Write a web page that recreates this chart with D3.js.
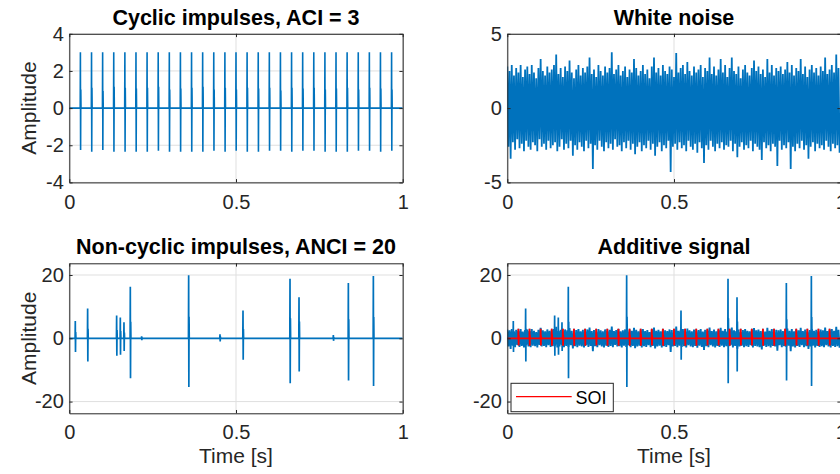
<!DOCTYPE html>
<html>
<head>
<meta charset="utf-8">
<script src="https://cdn.jsdelivr.net/npm/d3@7"></script>
<style>
  html, body { margin: 0; padding: 0; background: #fff; }
  svg { display: block; font-family: "Liberation Sans", Arial, Helvetica, sans-serif; }
</style>
</head>
<body>
<svg id="chart" width="840" height="474"></svg>
<script>
// ---- Cyclic impulses (SOI), 30 Hz repetition ----
const ciTime = [0.0333, 0.0667, 0.1000, 0.1333, 0.1667, 0.2000, 0.2333, 0.2667, 0.3000, 0.3333,
                0.3667, 0.4000, 0.4333, 0.4667, 0.5000, 0.5333, 0.5667, 0.6000, 0.6333, 0.6667,
                0.7000, 0.7333, 0.7667, 0.8000, 0.8333, 0.8667, 0.9000, 0.9333, 0.9667];
const ciPeak = [3.0, 3.0, 3.0, 3.0, 3.0, 3.0, 3.0, 3.0, 3.0, 3.0,
                3.0, 3.0, 3.0, 3.0, 3.0, 3.0, 3.0, 3.0, 3.0, 3.0,
                3.0, 3.0, 3.0, 3.0, 3.0, 3.0, 3.0, 3.0, 3.0];
const ciTrough = [-2.25, -2.35, -2.25, -2.35, -2.35, -2.35, -2.35, -2.3, -2.35, -2.35,
                  -2.35, -2.35, -2.3, -2.35, -2.3, -2.35, -2.35, -2.3, -2.3, -2.35,
                  -2.3, -2.3, -2.35, -2.35, -2.35, -2.3, -2.3, -2.35, -2.3];
const ciRebound = [1.0, 1.1, 0.9, 1.15, 1.1, 1.05, 1.1, 1.15, 1.0, 1.05,
                   1.1, 1.15, 1.0, 1.1, 1.0, 1.1, 1.05, 1.1, 0.95, 1.1,
                   1.05, 1.1, 1.0, 1.05, 1.1, 1.0, 1.1, 1.05, 1.0];

// ---- Non-cyclic impulses ----
const ncTime    = [0.018, 0.055, 0.142, 0.153, 0.164, 0.183, 0.217, 0.358, 0.452, 0.521, 0.662, 0.689, 0.792, 0.837, 0.912];
const ncPeak    = [5.5, 9.4, 7.2, 6.6, 5.1, 16.3, 0.6, 19.9, 1.3, 8.8, 18.8, 13.0, 1.0, 17.5, 19.7];
const ncTrough  = [-4.3, -7.3, -5.5, -5.2, -4.0, -12.6, -0.6, -15.4, -1.0, -6.8, -14.2, -10.5, -0.8, -13.3, -15.1];
const ncRebound = [2.0, 3.0, 2.5, 2.3, 1.8, 5.2, 0.3, 6.8, 0.5, 2.9, 6.3, 5.3, 0.4, 6.0, 6.7];

// ---- White noise: successive local maxima / minima ----
const noiseHi = [2.8, 2.5, 2.9, 2.2, 2.7, 2.4, 2.9, 2.1, 2.6, 2.8,
                 2.3, 2.9, 2.4, 2.0, 2.7, 3.3, 2.5, 2.2, 2.8, 2.4,
                 2.6, 2.9, 3.6, 2.3, 2.7, 2.1, 2.8, 2.5, 3.2, 2.4,
                 2.0, 2.6, 2.9, 2.2, 2.7, 2.4, 2.8, 3.4, 2.3, 2.6,
                 2.1, 2.9, 2.5, 2.2, 2.8, 2.4, 2.7, 3.75, 2.3, 2.6,
                 2.9, 2.2, 2.5, 2.8, 2.1, 2.6, 2.4, 3.3, 2.7, 2.2,
                 2.5, 2.9, 2.3, 2.6, 2.0, 2.8, 3.4, 2.4, 2.7, 2.2,
                 2.9, 2.5, 2.3, 2.8, 2.6, 2.1, 3.7, 2.4, 2.7, 2.9,
                 2.3, 3.1, 2.5, 2.2, 2.8, 2.4, 2.6, 2.9, 2.1, 2.7,
                 2.5, 3.4, 2.3, 2.8, 2.2, 2.6, 3.3, 2.4, 2.9, 2.1,
                 2.7, 3.4, 2.5, 2.3, 2.8, 2.0, 2.6, 2.9, 2.4, 2.2,
                 2.7, 3.2, 2.5, 2.8, 2.3, 2.6, 2.1, 3.3, 2.4, 2.9,
                 2.2, 2.7, 2.5, 2.8, 2.3, 2.6, 3.1, 2.4, 2.9, 2.2,
                 2.7, 2.5, 3.3, 2.3, 2.8, 2.1, 2.6, 2.9, 2.4, 2.7,
                 2.2, 2.8, 2.5, 3.4, 2.3, 2.6, 2.9, 2.4, 3.6, 2.7];
const noiseLo = [-2.6, -3.4, -2.3, -2.8, -2.1, -2.7, -2.4, -2.9, -2.2, -2.6,
                 -2.8, -2.3, -2.5, -2.9, -2.1, -2.6, -2.4, -2.8, -2.2, -2.7,
                 -2.5, -2.3, -2.9, -2.6, -2.1, -2.8, -2.4, -2.7, -2.2, -3.2,
                 -2.5, -2.8, -2.3, -2.6, -2.9, -2.2, -2.7, -2.4, -4.1, -2.5,
                 -2.8, -2.2, -2.6, -2.9, -2.3, -2.7, -2.4, -2.8, -2.1, -2.6,
                 -2.5, -2.9, -2.3, -2.7, -2.2, -2.8, -2.4, -3.1, -2.6, -2.3,
                 -2.9, -2.5, -2.7, -2.2, -2.8, -2.4, -3.2, -2.6, -2.3, -2.9,
                 -2.5, -2.7, -2.2, -4.3, -2.6, -2.4, -2.8, -2.3, -2.7, -2.5,
                 -2.9, -2.2, -2.6, -2.8, -2.4, -3.0, -2.3, -2.7, -3.7, -2.5,
                 -2.8, -2.2, -2.6, -2.9, -2.4, -2.7, -2.3, -2.8, -2.5, -2.6,
                 -2.2, -2.9, -2.4, -3.3, -2.6, -2.3, -2.8, -2.5, -2.7, -2.2,
                 -2.9, -2.4, -2.6, -2.8, -3.5, -2.3, -2.7, -2.5, -2.9, -2.4,
                 -2.6, -3.9, -2.2, -2.8, -2.5, -2.7, -2.3, -4.1, -2.6, -2.9,
                 -2.4, -2.7, -2.2, -2.8, -2.5, -3.4, -2.6, -2.3, -2.9, -2.4,
                 -2.7, -2.5, -2.8, -2.2, -2.6, -2.9, -2.4, -2.7, -2.5, -3.0];

// ---- Axis ticks and labels ----
const xTicks = [0, 0.5, 1];
const yTicksCyclic = [-4, -2, 0, 2, 4];
const yTicksNoise = [-5, 0, 5];
const yTicksLarge = [-20, 0, 20];
const titles = ["Cyclic impulses, ACI = 3", "White noise", "Non-cyclic impulses, ANCI = 20", "Additive signal"];
const xLabel = "Time [s]";
const yLabel = "Amplitude";
const legendLabels = ["SOI"];

// ---- Styling ----
const BLUE = "#0072BD";
const RED = "#FF0000";
const AX = "#262626";
const GRID = "#dfdfdf";
const STEP = 0.0006;  // sample spacing inside one impulse [s]
const tickText = d => String(d);  // plain hyphen-minus for negative values

// Builds a time series: flat zero line with each impulse as a short burst of samples.
function impulseSeries(times, peaks, troughs, rebounds) {
  const pts = [[0, 0]];
  times.forEach((t, i) => {
    pts.push([t - STEP, 0], [t, peaks[i]], [t + STEP, troughs[i]], [t + 2 * STEP, rebounds[i]], [t + 3 * STEP, 0]);
  });
  pts.push([1, 0]);
  return pts;
}
// Noise series alternating between local maxima and minima.
function noiseSeries(hi, lo) {
  const n = hi.length, pts = [];
  for (let i = 0; i < n; i++) pts.push([i / n, hi[i]], [(i + 0.5) / n, lo[i]]);
  return pts;
}

const cyclic = impulseSeries(ciTime, ciPeak, ciTrough, ciRebound);
const nonCyclic = impulseSeries(ncTime, ncPeak, ncTrough, ncRebound);
const noise = noiseSeries(noiseHi, noiseLo);

const svg = d3.select("#chart");

const layout = [
  { x0: 69.3,  x1: 402.7, y0: 33.8,  y1: 182.4, yDom: [-4, 4],       yTicks: yTicksCyclic, yLab: true,  xLab: false },
  { x0: 507.3, x1: 840.7, y0: 33.8,  y1: 182.4, yDom: [-5, 5],       yTicks: yTicksNoise,  yLab: false, xLab: false },
  { x0: 69.3,  x1: 402.7, y0: 263.3, y1: 413.3, yDom: [-23.7, 23.7], yTicks: yTicksLarge,  yLab: true,  xLab: true },
  { x0: 507.3, x1: 840.7, y0: 263.3, y1: 413.3, yDom: [-23.7, 23.7], yTicks: yTicksLarge,  yLab: false, xLab: true }
];

const seriesPerPanel = [
  [{ data: cyclic, color: BLUE, w: 1.6 }],
  [{ data: noise, color: BLUE, w: 1.8 }],
  [{ data: nonCyclic, color: BLUE, w: 1.7 }],
  [{ data: noise, color: BLUE, w: 1.9 },
   { data: nonCyclic, color: BLUE, w: 1.7 },
   { data: cyclic, color: BLUE, w: 1.6 },
   { data: cyclic, color: RED, w: 1.8 }]
];

layout.forEach((p, idx) => {
  const x = d3.scaleLinear().domain([0, 1]).range([p.x0, p.x1]);
  const y = d3.scaleLinear().domain(p.yDom).range([p.y1, p.y0]);
  const g = svg.append("g");

  g.append("rect").attr("x", p.x0).attr("y", p.y0)
    .attr("width", p.x1 - p.x0).attr("height", p.y1 - p.y0).attr("fill", "#fff");

  // grid
  g.append("g").selectAll("line").data(xTicks).join("line")
    .attr("x1", d => x(d)).attr("x2", d => x(d)).attr("y1", p.y0).attr("y2", p.y1)
    .attr("stroke", GRID).attr("stroke-width", 1);
  g.append("g").selectAll("line").data(p.yTicks).join("line")
    .attr("x1", p.x0).attr("x2", p.x1).attr("y1", d => y(d)).attr("y2", d => y(d))
    .attr("stroke", GRID).attr("stroke-width", 1);

  // signals
  const clipId = "clip" + idx;
  svg.append("clipPath").attr("id", clipId).append("rect")
    .attr("x", p.x0).attr("y", p.y0).attr("width", p.x1 - p.x0).attr("height", p.y1 - p.y0);
  const line = d3.line().x(d => x(d[0])).y(d => y(d[1]));
  const dg = g.append("g").attr("clip-path", `url(#${clipId})`);
  seriesPerPanel[idx].forEach(s => {
    dg.append("path").attr("d", line(s.data)).attr("fill", "none")
      .attr("stroke", s.color).attr("stroke-width", s.w)
      .attr("stroke-linejoin", "miter").attr("stroke-miterlimit", 2);
  });

  // axes (ticks point inward, box on all sides)
  const styleAxis = sel => {
    sel.selectAll(".domain").attr("stroke", AX).attr("stroke-width", 1);
    sel.selectAll(".tick line").attr("stroke", AX).attr("stroke-width", 1);
    sel.selectAll(".tick text").attr("fill", AX).attr("font-size", 20)
      .attr("font-family", '"Liberation Sans", Arial, Helvetica, sans-serif');
  };
  g.append("g").attr("transform", `translate(0,${p.y1})`)
    .call(d3.axisBottom(x).tickValues(xTicks).tickFormat(tickText).tickSizeInner(-3.3).tickSizeOuter(0).tickPadding(12))
    .call(styleAxis);
  g.append("g").attr("transform", `translate(${p.x0},0)`)
    .call(d3.axisLeft(y).tickValues(p.yTicks).tickFormat(tickText).tickSizeInner(-3.3).tickSizeOuter(0).tickPadding(5.5))
    .call(styleAxis);
  g.append("g").attr("transform", `translate(0,${p.y0})`)
    .call(d3.axisTop(x).tickValues(xTicks).tickFormat("").tickSizeInner(-3.3).tickSizeOuter(0))
    .call(styleAxis);
  g.append("g").attr("transform", `translate(${p.x1},0)`)
    .call(d3.axisRight(y).tickValues(p.yTicks).tickFormat("").tickSizeInner(-3.3).tickSizeOuter(0))
    .call(styleAxis);

  // title
  g.append("text").attr("x", (p.x0 + p.x1) / 2).attr("y", p.y0 - 9)
    .attr("text-anchor", "middle").attr("font-weight", "bold").attr("font-size", 21.5)
    .attr("fill", "#000").text(titles[idx]);

  if (p.xLab) {
    g.append("text").attr("x", (p.x0 + p.x1) / 2).attr("y", p.y1 + 50)
      .attr("text-anchor", "middle").attr("font-size", 21).attr("fill", AX).text(xLabel);
  }
  if (p.yLab) {
    g.append("text")
      .attr("transform", `translate(${p.x0 - 33},${(p.y0 + p.y1) / 2}) rotate(-90)`)
      .attr("text-anchor", "middle").attr("font-size", 21).attr("fill", AX).text(yLabel);
  }

  // legend for the SOI trace in the additive panel
  if (idx === 3) {
    const lg = g.append("g").attr("transform", `translate(${p.x0 + 3.7},${p.y1 - 30})`);
    lg.append("rect").attr("width", 102.3).attr("height", 28.4)
      .attr("fill", "#fff").attr("stroke", AX).attr("stroke-width", 1);
    lg.append("line").attr("x1", 5).attr("x2", 60.7).attr("y1", 13.4).attr("y2", 13.4)
      .attr("stroke", RED).attr("stroke-width", 1.3);
    lg.append("text").attr("x", 64.5).attr("y", 20.5).attr("font-size", 18)
      .attr("fill", "#000").text(legendLabels[0]);
  }
});
</script>
</body>
</html>
